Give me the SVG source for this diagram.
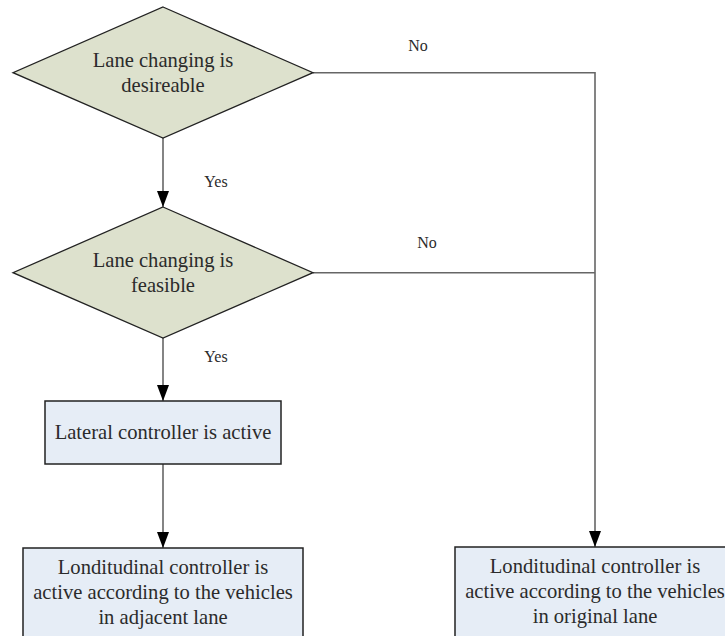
<svg xmlns="http://www.w3.org/2000/svg" width="725" height="636" viewBox="0 0 725 636">
<style>
.dia{fill:#dde1cd;stroke:#222;stroke-width:1.3}
.box{fill:#e6edf6;stroke:#222;stroke-width:1.5}
.c{fill:none;stroke:#666;stroke-width:1.6}
.t{font-family:"Liberation Serif","Times New Roman",serif;font-size:20.6px;fill:#2b2b2b;text-anchor:middle}
.l{font-family:"Liberation Serif","Times New Roman",serif;font-size:16px;fill:#2b2b2b;text-anchor:middle}
</style>
<defs>
<marker id="arr" viewBox="0 0 16 12" refX="16" refY="6" markerWidth="16" markerHeight="12" markerUnits="userSpaceOnUse" orient="auto">
<path d="M0,0 L16,6 L0,12 Z" fill="#000"/>
</marker>
</defs>
<rect width="725" height="636" fill="#fff"/>
<g id="connectors">
<path class="c" d="M163,138 V207" marker-end="url(#arr)"/>
<path class="c" d="M163,338 V401" marker-end="url(#arr)"/>
<path class="c" d="M163,464 V548" marker-end="url(#arr)"/>
<path class="c" d="M313,72.7 H595 V547" marker-end="url(#arr)"/>
<path class="c" d="M313,272.7 H595"/>
<text class="l" x="418" y="51">No</text>
<text class="l" x="427" y="248">No</text>
<text class="l" x="216" y="187">Yes</text>
<text class="l" x="216" y="362">Yes</text>
</g>
<g id="d1">
<polygon class="dia" points="163,7 313,72.7 163,138 13,72.7"/>
<text class="t" x="163" y="67">Lane changing is</text>
<text class="t" x="163" y="92">desireable</text>
</g>
<g id="d2">
<polygon class="dia" points="163,207 313,272.7 163,338 13,272.7"/>
<text class="t" x="163" y="267">Lane changing is</text>
<text class="t" x="163" y="292">feasible</text>
</g>
<g id="b1">
<rect class="box" x="45" y="401" width="236" height="63"/>
<text class="t" x="163" y="439">Lateral controller is active</text>
</g>
<g id="b2">
<rect class="box" x="23" y="548" width="280" height="100"/>
<text class="t" x="163" y="574">Londitudinal controller is</text>
<text class="t" x="163" y="599">active according to the vehicles</text>
<text class="t" x="163" y="624">in adjacent lane</text>
</g>
<g id="b3">
<rect class="box" x="455" y="547" width="280" height="100"/>
<text class="t" x="595" y="573">Londitudinal controller is</text>
<text class="t" x="595" y="598">active according to the vehicles</text>
<text class="t" x="595" y="623">in original lane</text>
</g>
</svg>
